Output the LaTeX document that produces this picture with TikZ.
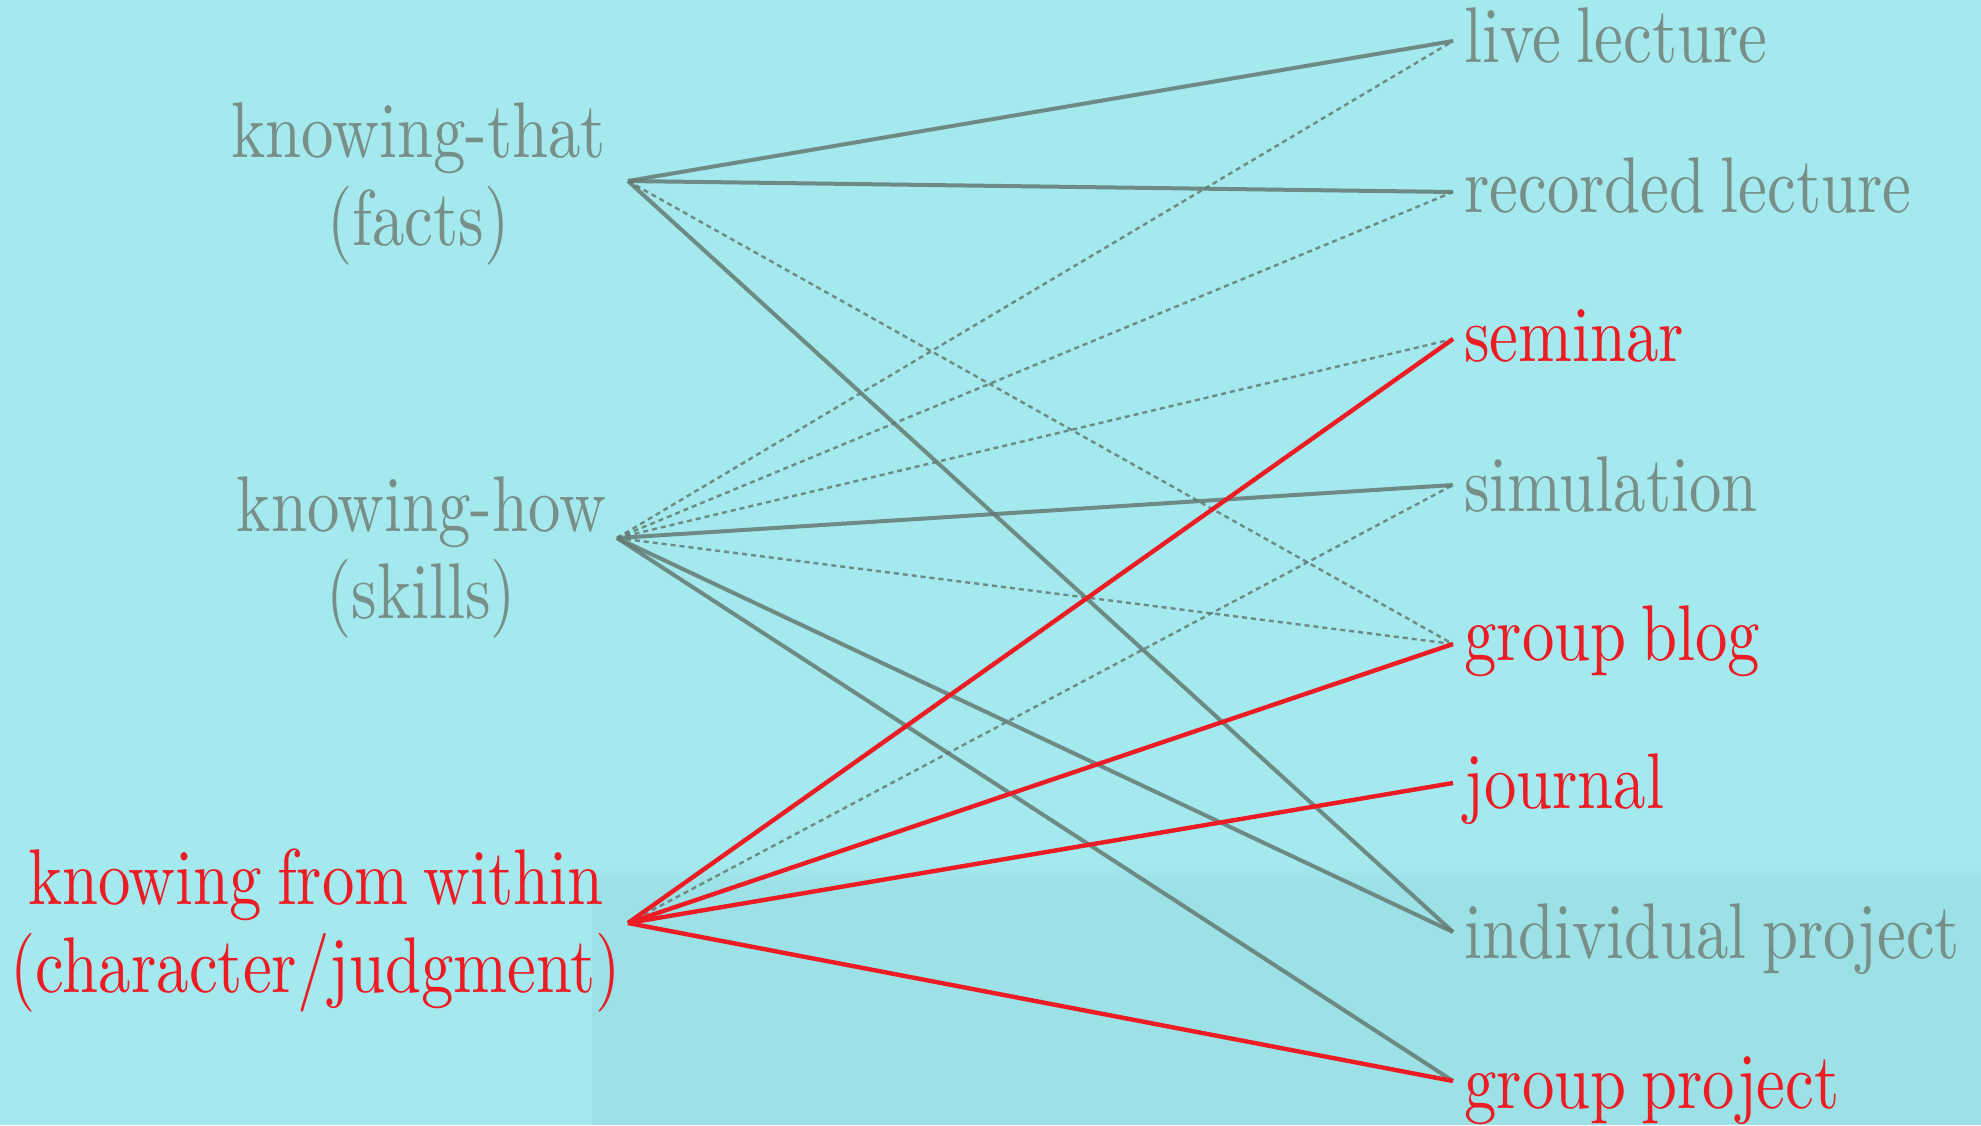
\documentclass[tikz,border=0pt]{standalone}
\usepackage{fontspec}
\usepackage{graphicx}
\usetikzlibrary{calc}
\newfontfamily\lmten{lmroman10-regular.otf}[WordSpace=0.7]
\definecolor{bgcyan}{RGB}{163,233,237}
\definecolor{bgdark}{RGB}{155,225,230}
\definecolor{txtgray}{RGB}{120,142,136}
\definecolor{lngray}{RGB}{100,122,115}
\definecolor{myred}{RGB}{237,28,36}
\newcommand{\cond}[1]{\scalebox{0.82}[1]{#1}}
\tikzset{
  lbl/.style={inner sep=0pt, font=\lmten\fontsize{79}{88}\selectfont},
  graylbl/.style={lbl, text=txtgray},
  redlbl/.style={lbl, text=myred},
  solidgray/.style={draw=lngray, line width=4pt, draw opacity=0.85},
  dashgray/.style={draw=lngray, line width=2.4pt, dash pattern=on 5pt off 4pt, draw opacity=0.85},
  solidred/.style={draw=myred, line width=4.4pt}
}
\begin{document}
\begin{tikzpicture}[x=1pt,y=-1pt]
\useasboundingbox (0,0) rectangle (1981,1125);
\fill[bgcyan] (0,0) rectangle (1981,1125);
\fill[bgdark] (592,885) rectangle (1981,1125);
\shade[top color=bgcyan, bottom color=bgdark] (592,862) rectangle (1981,886);

% left labels
\node[graylbl, anchor=base east] (tl1) at (606,157) {\cond{knowing-that}};
\node[graylbl, anchor=base] (tl2) at ($(tl1.base)+(0,88)$) {\cond{(facts)}};
\node[graylbl, anchor=base east] (hl1) at (606,531) {\cond{knowing-how}};
\node[graylbl, anchor=base] (hl2) at ($(hl1.base)+(0,87)$) {\cond{(skills)}};
\node[redlbl, anchor=base east] (wl1) at (604,904) {\cond{knowing from within}};
\node[redlbl, anchor=base] (wl2) at ($(wl1.base)+(0,88)$) {\cond{(character/judgment)}};

% right labels
\node[graylbl, anchor=base west] (lvl) at (1464,62) {\cond{live lecture}};
\node[graylbl, anchor=base west] (rcl) at (1464,212) {\cond{recorded lecture}};
\node[redlbl, anchor=base west] (sml) at (1464,361) {\cond{seminar}};
\node[graylbl, anchor=base west] (sil) at (1464,511) {\cond{simulation}};
\node[redlbl, anchor=base west] (gbl) at (1464,660) {\cond{group blog}};
\node[redlbl, anchor=base west] (jol) at (1464,808) {\cond{journal}};
\node[graylbl, anchor=base west] (ipl) at (1464,958) {\cond{individual project}};
\node[redlbl, anchor=base west] (gpl) at (1464,1108) {\cond{group project}};

% connector end points
\coordinate (T) at (628,181);
\coordinate (H) at (617,538);
\coordinate (W) at (628,923);
\coordinate (lv) at (1453,41);
\coordinate (rc) at (1453,192);
\coordinate (sm) at (1453,339);
\coordinate (si) at (1453,485);
\coordinate (gb) at (1453,644);
\coordinate (jo) at (1453,783);
\coordinate (ip) at (1453,932);
\coordinate (gp) at (1453,1081);

% dashed gray
\draw[dashgray] (T) -- (gb);
\draw[dashgray] (H) -- (lv);
\draw[dashgray] (H) -- (rc);
\draw[dashgray] (H) -- (sm);
\draw[dashgray] (H) -- (gb);
\draw[dashgray] (W) -- (si);

% solid gray
\draw[solidgray] (T) -- (lv);
\draw[solidgray] (T) -- (rc);
\draw[solidgray] (T) -- (ip);
\draw[solidgray] (H) -- (si);
\draw[solidgray] (H) -- (ip);
\draw[solidgray] (H) -- (gp);

% solid red
\draw[solidred] (W) -- (sm);
\draw[solidred] (W) -- (gb);
\draw[solidred] (W) -- (jo);
\draw[solidred] (W) -- (gp);
\end{tikzpicture}
\end{document}
